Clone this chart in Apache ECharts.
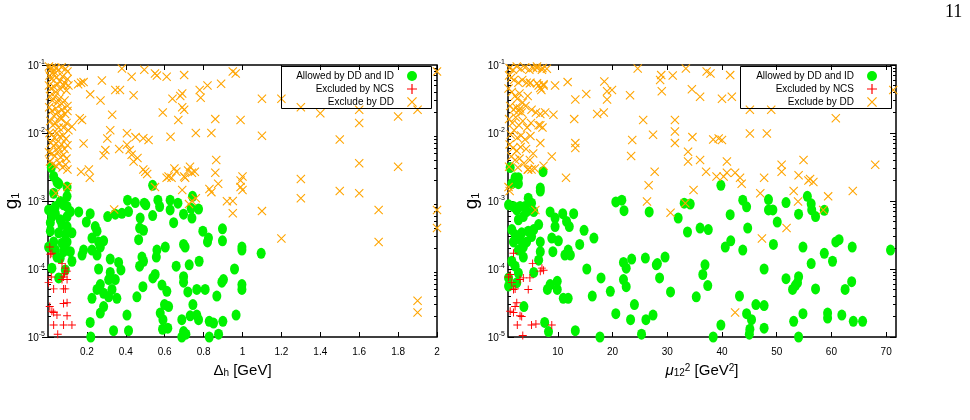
<!DOCTYPE html>
<html lang="en">
<head>
<meta charset="UTF-8">
<title>g1 scan</title>
<style>
  html, body { margin: 0; padding: 0; background: #fff; }
  #chart { width: 970px; height: 420px; }
</style>
<script src="https://cdn.jsdelivr.net/npm/echarts@6/dist/echarts.min.js"></script>
</head>
<body>
<div id="chart"></div>
<script>
// tick labels
const deltaTicks = [0.2, 0.4, 0.6, 0.8, 1, 1.2, 1.4, 1.6, 1.8, 2];
const muTicks = [10, 20, 30, 40, 50, 60, 70];
const g1Decades = [1e-5, 1e-4, 1e-3, 1e-2, 1e-1];
const g1Minor = [];
g1Decades.slice(0, 4).forEach(d => { for (let k = 2; k <= 9; k++) g1Minor.push(k * d); });

const seriesNames = ['Allowed by DD and ID', 'Excluded by NCS', 'Exclude by DD'];

// left panel: Delta_h [GeV] vs g1
const leftAllowed = [
  [0.017,3.1e-3],[0.029,2.3e-3],[0.046,1.9e-3],[0.055,1.8e-3],[0.029,1.3e-3],[0.098,1.6e-3],[0.098,1.17e-3],
  [0.003,7.4e-4],[0.038,8.3e-4],[0.08,8.8e-4],[0.115,7e-4],[0.158,6.9e-4],[0.02,5.9e-4],[0.063,5.3e-4],
  [0.098,5.9e-4],[0.072,4.5e-4],[0.098,4.2e-4],[0.012,3.6e-4],[0.055,3.4e-4],[0.089,3.2e-4],[0.123,3.4e-4],
  [0.029,2.5e-4],[0.072,2.4e-4],[0.098,2.5e-4],[0.003,2.1e-4],[0.038,1.9e-4],[0.08,1.8e-4],[0.115,1.8e-4],
  [0.063,1.45e-4],[0.123,1.3e-4],[0.02,1.03e-4],[0.089,9.7e-5],[0.055,7.4e-5],[0.038,6.5e-4],[0.063,9.8e-4],
  [0.012,4.8e-4],[0.098,8.3e-4],[0.089,2.1e-4],[0.046,1.5e-4],
  [0.217,6.5e-4],[0.197,4.9e-4],[0.243,4.2e-4],[0.252,3.6e-4],[0.226,2.85e-4],[0.26,2.5e-4],[0.286,2.6e-4],
  [0.269,2.1e-4],[0.183,1.9e-4],[0.175,1.6e-4],[0.226,1.9e-4],[0.252,1.6e-4],[0.32,1.4e-4],[0.26,1e-4],
  [0.32,8.9e-5],[0.363,1.25e-4],[0.375,9.7e-5],[0.346,7e-5],[0.312,7e-5],[0.269,5.9e-5],[0.252,5e-5],
  [0.226,3.7e-5],[0.286,4.4e-5],[0.329,5e-5],[0.312,3.9e-5],[0.354,3.7e-5],[0.286,2.8e-5],[0.269,2.25e-5],
  [0.217,1.64e-5],[0.22,1e-5],[0.337,1.24e-5],[0.406,2.1e-5],[0.414,1.24e-5],[0.307,5.9e-4],[0.346,6.4e-4],
  [0.38,6.6e-4],[0.409,1.03e-3],[0.414,7e-4],[0.449,9.5e-4],[0.495,9.3e-4],[0.503,8.8e-4],[0.474,5.6e-4],
  [0.471,4e-4],[0.491,3.7e-4],[0.466,2.7e-4],[0.538,1.7e-3],[0.538,6.1e-4],[0.565,1.03e-3],[0.574,8.3e-4],
  [0.628,1.03e-3],[0.628,7.4e-4],[0.668,9.3e-4],[0.646,4.8e-4],[0.697,6.4e-4],[0.743,1.17e-3],[0.736,7.8e-4],
  [0.74,5.6e-4],[0.774,7.6e-4],[0.796,3.6e-4],[0.825,2.85e-4],[0.82,2.5e-4],[0.897,3.9e-4],[0.897,2.6e-4],
  [0.56,1.9e-4],[0.603,2.1e-4],[0.557,1.5e-4],[0.483,1.5e-4],[0.491,1.3e-4],[0.471,1.1e-4],[0.551,8.3e-5],
  [0.539,7.4e-5],[0.586,5.8e-5],[0.611,4.7e-5],[0.488,5.5e-5],[0.457,3.9e-5],[0.659,1.1e-4],[0.697,2.3e-4],
  [0.705,2.1e-4],[0.726,1.15e-4],[0.777,1.3e-4],[0.697,7.7e-5],[0.697,6.4e-5],[0.719,4.6e-5],[0.765,5e-5],
  [0.808,5e-5],[0.745,3e-5],[0.868,4e-5],[0.902,7e-5],[0.894,6.4e-5],[0.959,1e-4],[0.997,2.1e-4],[0.997,1.9e-4],
  [0.997,5.9e-5],[0.997,5e-5],[1.096,1.7e-4],[0.577,2.25e-5],[0.591,1.8e-5],[0.599,3e-5],[0.62,2.8e-5],
  [0.589,1.3e-5],[0.616,1.35e-5],[0.688,1.8e-5],[0.697,1.2e-5],[0.709,1.1e-5],[0.731,2.05e-5],[0.765,2.1e-5],
  [0.774,1.8e-5],[0.829,1.7e-5],[0.851,1.6e-5],[0.877,1.1e-5],[0.899,1.7e-5],[0.829,1e-5],[0.967,2.1e-5],
  [0.688,1e-5]
];
const leftNCS = [
  [0.009,2.1e-4],[0.02,1.7e-4],[0.012,1.65e-4],[0.017,7.6e-5],[0.029,5.1e-5],[0.072,1.2e-4],[0.089,1.03e-4],
  [0.098,9.3e-5],[0.08,7.6e-5],[0.072,7e-5],[0.098,7e-5],[0.089,5.1e-5],[0.08,5.1e-5],[0.08,3.1e-5],
  [0.098,3.2e-5],[0.009,2.8e-5],[0.02,2.4e-5],[0.029,2.3e-5],[0.046,2.1e-5],[0.029,1.5e-5],[0.08,1.5e-5],
  [0.098,2.05e-5],[0.123,1.5e-5],[0.05,1.1e-5],[0.003,6.3e-5],[0.085,8.5e-5]
];
const leftDD = [
  [0.005,0.095],[0.012,0.085],[0.02,0.092],[0.03,0.08],[0.04,0.09],[0.055,0.085],[0.07,0.093],[0.09,0.088],[0.1,0.08],
  [0.008,0.07],[0.018,0.062],[0.028,0.072],[0.045,0.066],[0.06,0.058],[0.075,0.068],[0.085,0.055],[0.1,0.062],[0.105,0.05],
  [0.005,0.05],[0.015,0.045],[0.03,0.048],[0.04,0.04],[0.05,0.052],[0.065,0.044],[0.08,0.05],[0.095,0.042],
  [0.01,0.035],[0.022,0.03],[0.035,0.034],[0.048,0.028],[0.058,0.032],[0.07,0.027],[0.085,0.03],[0.1,0.025],
  [0.006,0.024],[0.02,0.021],[0.03,0.018],[0.04,0.023],[0.05,0.02],[0.06,0.017],[0.072,0.022],[0.088,0.019],[0.1,0.021],
  [0.012,0.015],[0.025,0.013],[0.038,0.014],[0.055,0.012],[0.068,0.016],[0.08,0.012],[0.095,0.014],
  [0.008,0.01],[0.02,0.0095],[0.033,0.0085],[0.045,0.01],[0.06,0.0088],[0.078,0.0092],[0.092,0.0082],[0.105,0.011],
  [0.015,0.0072],[0.028,0.0065],[0.042,0.007],[0.055,0.006],[0.07,0.0068],[0.085,0.0058],[0.1,0.0066],
  [0.005,0.0052],[0.02,0.005],[0.035,0.0046],[0.05,0.0053],[0.065,0.0044],[0.08,0.0048],[0.095,0.0042],
  [0.01,0.0038],[0.025,0.0035],[0.04,0.0033],[0.06,0.0036],[0.075,0.0031],[0.09,0.0034],[0.1,0.0029],
  [0.04,0.0013],[0.1,0.0016],
  [0.17,5.5e-2],[0.155,5.2e-2],[0.183,5.6e-2],[0.217,3.7e-2],[0.27,3e-2],[0.277,5.9e-2],[0.175,1.55e-2],
  [0.163,1.65e-2],[0.123,1.25e-2],[0.183,7e-3],[0.33,1.85e-2],[0.32,1.1e-2],[0.305,8.3e-3],[0.295,5.6e-3],
  [0.286,4.7e-3],[0.366,5.8e-3],[0.38,8.9e-2],[0.43,6.7e-2],[0.346,4.3e-2],[0.37,4.3e-2],[0.44,3.6e-2],
  [0.406,9.9e-3],[0.45,8.7e-3],[0.406,6.7e-3],[0.42,5.6e-3],[0.43,4.8e-3],[0.46,4.3e-3],[0.44,3.8e-3],
  [0.49,8.4e-3],[0.517,7.9e-3],[0.495,8.5e-2],[0.55,7.5e-2],[0.56,7e-2],[0.61,6.7e-2],[0.64,3.2e-2],
  [0.59,2e-2],[0.63,8.8e-3],[0.67,1.55e-2],[0.68,3.5e-2],[0.69,3.8e-2],[0.7,7.1e-2],[0.69,2.4e-2],
  [0.7,2.2e-2],[0.76,1e-2],[0.785,3.3e-2],[0.78,4.3e-2],[0.82,5e-2],[0.84,1e-2],[0.86,1.6e-2],[0.89,5.3e-2],
  [0.95,8e-2],[0.965,7.5e-2],[0.99,1.55e-2],[1.1,3.2e-2],[1.1,9.1e-3],[1.2,3.2e-2],[1.3,2.4e-2],[1.4,1.95e-2],
  [1.5,8e-3],[1.6,1.4e-2],[1.6,2.2e-2],[1.8,1.75e-2],[1.9,2.2e-2],[2.0,8e-2],[1.6,3.6e-3],[1.8,3.2e-3],
  [1.6,1.3e-3],[1.5,1.4e-3],[1.3,2.1e-3],[1.3,1.1e-3],[1.1,7.1e-4],[1.2,2.8e-4],[1.7,7.4e-4],[1.7,2.5e-4],
  [2.0,7.4e-4],[2.0,4e-4],[1.9,3.4e-5],[1.9,2.3e-5],[1.0,2.3e-3],[0.99,2e-3],[0.99,1.6e-3],[1.0,1.45e-3],
  [0.95,6.6e-4],[0.92,9.9e-4],[0.95,1e-3],[0.83,1.5e-3],[0.84,1.35e-3],[0.86,2.6e-3],[0.865,4e-3],
  [0.875,1.8e-3],[0.72,2.8e-3],[0.73,3.2e-3],[0.74,2.6e-3],[0.755,2.7e-3],[0.7,2.3e-3],[0.705,2.2e-3],
  [0.65,3e-3],[0.66,2.7e-3],[0.62,2.3e-3],[0.61,2.2e-3],[0.635,2.2e-3],[0.69,1.45e-3],[0.725,9e-4],
  [0.74,1e-3],[0.76,1.1e-3],[0.5,2.7e-3],[0.49,2.9e-3],[0.51,2.5e-3],[0.55,1.6e-3],[0.34,7.5e-4],
  [0.21,2.9e-3],[0.215,2.2e-3],[0.17,2.7e-3]
];

// right panel: mu12^2 [GeV^2] vs g1
const rightAllowed = [
  [1.3,3.1e-3],[2.2,2.2e-3],[2.8,2.2e-3],[2.8,1.8e-3],[1.6,1.8e-3],[6.8,1.55e-3],[6.8,1.4e-3],[7.3,2.7e-3],
  [1.0,8.8e-4],[1.9,8.3e-4],[2.5,7.4e-4],[3.1,8.3e-4],[4.0,8.3e-4],[4.6,1.1e-3],[5.2,9.3e-4],[4.3,7e-4],
  [5.6,7e-4],[2.8,5.3e-4],[3.7,5.9e-4],[1.6,3.8e-4],[2.2,3.2e-4],[3.4,3.4e-4],[4.6,3.6e-4],[5.6,3.8e-4],
  [6.5,4.5e-4],[1.9,2.5e-4],[3.1,2.7e-4],[4.3,2.5e-4],[5.2,3e-4],[6.8,2.5e-4],[2.8,1.9e-4],[3.7,2.1e-4],
  [6.8,1.8e-4],[3.7,1.5e-4],[6.5,1.35e-4],[1.6,1.3e-4],[2.2,1.1e-4],[2.8,8.7e-5],[1.0,7.4e-5],[1.0,5.6e-5],
  [2.5,6.3e-5],[5.6,8.9e-5],[3.8,2.8e-5],[7.6,1.64e-5],[8.3,1.2e-5],[8.1,5e-5],[8.6,5.9e-5],[9.9,6.6e-5],
  [9.9,5e-5],[8.6,6.9e-4],[9.5,5.6e-4],[9.5,4.2e-4],[8.9,2.85e-4],[9.1,1.8e-4],[10.1,2.6e-4],[10.9,6.5e-4],
  [11.6,5e-4],[12.1,4.2e-4],[12.9,6.5e-4],[11.3,1.6e-4],[11.9,1.9e-4],[12.3,1.6e-4],[14.0,2.3e-4],[14.8,3.7e-4],
  [16.6,2.85e-4],[15.3,1e-4],[11.0,3.7e-5],[11.9,3.7e-5],[13.2,1.24e-5],[16.3,4e-5],[17.9,7.4e-5],[17.7,1e-5],
  [19.6,4.7e-5],[20.6,9.7e-4],[21.7,1.03e-3],[22.1,7.2e-4],[22.0,1.25e-4],[22.5,1.03e-4],[22.0,7e-5],
  [22.5,5.5e-5],[23.5,1.4e-4],[20.6,2.2e-5],[24.0,3e-5],[23.3,1.8e-5],[25.3,1.1e-5],[26.0,1.45e-4],
  [26.1,1.8e-5],[26.7,6.9e-4],[27.4,2.1e-5],[28.0,1.15e-4],[28.2,1.2e-4],[28.6,7.4e-5],[29.6,1.5e-4],
  [30.6,4.6e-5],[32.0,5.6e-4],[33.1,9.3e-4],[34.2,9e-4],[33.7,3.5e-4],[35.3,3.9e-5],[36.0,4e-4],[37.5,3.8e-4],
  [36.9,1.15e-4],[36.5,8.3e-5],[37.4,5.7e-5],[38.4,1e-5],[39.8,1.7e-3],[39.8,1.5e-5],[40.6,2.1e-4],
  [41.6,2.6e-4],[41.5,6.3e-4],[43.2,4e-5],[43.8,1.03e-3],[44.5,8.2e-4],[44.7,4e-4],[43.8,1.9e-4],[44.5,2.2e-5],
  [45.4,1.8e-5],[45.1,1.3e-5],[45.0,1.1e-5],[46.2,3e-5],[47.7,1e-4],[47.7,2.9e-5],[47.7,1.35e-5],[48.5,1.05e-3],
  [48.5,7.4e-4],[49.3,7.4e-4],[49.4,2.3e-4],[50.1,4.9e-4],[51.7,9.5e-4],[51.7,7.2e-5],[52.9,5e-5],[53.4,5.7e-5],
  [53.8,6.3e-5],[54.0,7.7e-5],[53.1,1.7e-5],[54.0,1e-5],[54.0,6.4e-4],[54.8,2.1e-4],[54.8,2.2e-5],[55.6,1.17e-3],
  [56.3,9.1e-4],[56.4,7.4e-4],[57.1,5.9e-4],[56.3,1.2e-4],[57.1,5.1e-5],[58.7,7.3e-4],[58.7,1.7e-4],[60.2,1.3e-4],
  [59.3,2.25e-5],[59.3,1.9e-5],[60.8,2.5e-4],[61.4,2.7e-4],[61.9,2.1e-5],[62.5,5e-5],[63.7,6.5e-5],[63.8,2.1e-4],
  [64.0,1.7e-5],[65.7,1.7e-5],[70.8,1.9e-4]
];
const rightNCS = [
  [1.9,1.7e-4],[1.3,8.3e-5],[5.4,1.2e-4],[7.1,1.03e-4],[7.4,9.6e-5],[6.8,9.3e-5],[3.7,7.4e-5],[4.9,7.4e-5],
  [3.1,7e-5],[2.2,5.1e-5],[1.9,5e-5],[4.6,5e-5],[2.5,3.2e-5],[2.2,2.8e-5],[1.3,2.4e-5],[1.9,2.3e-5],
  [3.1,2.05e-5],[3.4,2e-5],[2.6,1.5e-5],[5.2,1.5e-5],[6.0,1.55e-5],[8.9,1.5e-5],[3.6,1.05e-5],[1.0,7.6e-5],
  [1.6,6.3e-5]
];
const rightDD = [
  [1.2,0.09],[1.8,0.085],[2.5,0.095],[3.2,0.088],[4.0,0.092],[4.8,0.085],[5.5,0.09],[6.2,0.095],[7.2,0.09],[8.0,0.088],
  [1.1,0.07],[1.5,0.065],[2.0,0.06],[2.8,0.055],[3.5,0.06],[4.3,0.055],[5.0,0.055],[6.5,0.05],[7.4,0.052],
  [1.0,0.045],[1.6,0.04],[2.2,0.035],[2.6,0.032],[3.0,0.038],[3.6,0.028],[4.5,0.035],
  [1.3,0.025],[1.9,0.022],[2.4,0.024],[2.8,0.021],[3.1,0.023],[3.4,0.02],[4.1,0.025],[5.2,0.022],[6.0,0.02],
  [1.1,0.016],[1.7,0.014],[2.3,0.017],[2.9,0.013],[3.6,0.015],[4.4,0.012],[5.1,0.014],[6.5,0.013],
  [1.4,0.0095],[2.0,0.011],[2.6,0.0085],[3.3,0.0092],[4.0,0.008],[5.0,0.009],
  [1.2,0.0068],[1.8,0.006],[2.5,0.0055],[3.2,0.0062],[4.2,0.0058],[5.5,0.005],
  [1.5,0.0045],[2.2,0.004],[3.0,0.0042],[3.8,0.0036],[4.9,0.004],[1.1,0.0032],[2.7,0.0031],[4.5,0.0029],[5.8,0.003],
  [1.0,0.0016],[1.2,0.0014],[5.9,7.4e-4],
  [4.9,5.4e-2],[6.2,9e-2],[7.1,8.5e-2],[6.2,5.4e-2],[7.4,5e-2],[9.5,5e-2],[6.8,4.6e-2],[7.0,4.3e-2],[9.2,1.85e-2],
  [6.8,1.9e-2],[7.7,2e-2],[6.8,1.3e-2],[7.2,1.2e-2],[6.8,7.1e-3],[8.9,4.5e-3],[5.2,2.9e-3],[4.6,2.9e-3],[7.4,3.3e-3],
  [11.5,2.2e-3],[11.8,5.6e-2],[13.2,3.1e-2],[13.0,1.6e-2],[13.2,7.1e-3],[13.2,6e-3],[15.2,3.75e-2],[17.2,1.9e-2],
  [18.4,2e-2],[18.5,5.7e-2],[19.0,4.1e-2],[19.9,4.3e-2],[19.0,3.1e-2],[23.2,3.6e-2],[23.6,7.9e-3],[23.4,4.6e-3],
  [24.6,8.9e-2],[25.6,1.55e-2],[27.4,9.4e-3],[27.7,2.7e-3],[26.6,1.7e-3],[26.3,9.8e-4],[28.9,7.1e-2],[28.7,6e-2],
  [29.0,4.1e-2],[31.0,7e-2],[31.4,1.55e-2],[31.4,1.05e-2],[31.4,7.1e-3],[30.6,6.7e-4],[33.4,8.9e-2],[34.5,4.4e-2],
  [33.8,5.3e-3],[33.8,3.8e-3],[34.6,8.7e-3],[34.8,1.45e-3],[33.3,9.3e-4],[36.0,3.4e-2],[36.0,4e-3],[37.1,2.7e-3],
  [37.2,8e-2],[37.9,7.5e-2],[38.4,8e-3],[39.4,8.3e-3],[40.0,7.9e-3],[40.0,3.2e-2],[41.8,3.4e-2],[41.5,7.1e-2],
  [40.3,2.3e-3],[40.9,2.6e-3],[39.0,2.3e-3],[40.9,3.8e-3],[42.4,2.6e-3],[43.3,2.2e-3],[43.6,1.8e-3],[42.4,2.3e-5],
  [45.1,9.8e-3],[48.2,9.8e-3],[45.1,2.2e-2],[47.0,1.3e-3],[47.7,2.2e-3],[47.3,2.8e-4],[50.9,3.4e-3],[50.9,2.7e-3],
  [51.8,4e-4],[53.1,1.4e-3],[53.9,9.8e-4],[54.0,2.4e-3],[54.9,4e-3],[55.8,2e-3],[56.7,1.9e-3],[56.1,2.1e-3],
  [58.5,7.4e-4],[59.4,1.17e-3],[60.8,1.65e-2],[63.9,1.4e-3],[68.0,3.4e-3],[71.3,4.3e-2],[49.0,2.2e-2]
];

const FONT = '"Liberation Sans", Arial, sans-serif';
const GREEN = '#00f200', RED = '#ff0000', ORANGE = '#ffa500';
const PLUS = 'path://M4.4,0L5.6,0L5.6,4.4L10,4.4L10,5.6L5.6,5.6L5.6,10L4.4,10L4.4,5.6L0,5.6L0,4.4L4.4,4.4Z';
const CROSS = 'path://M0.85,0L10,9.15L9.15,10L0,0.85ZM9.15,0L10,0.85L0.85,10L0,9.15Z';

const grids = [
  { left: 48, top: 65, width: 389, height: 272 },
  { left: 508, top: 65, width: 388, height: 272 }
];

function xAxes(gi, min, max, ticks, name, rich) {
  const base = {
    type: 'value', gridIndex: gi, min: min, max: max,
    axisLine: { show: false }, splitLine: { show: false }
  };
  return [
    Object.assign({}, base, {
      position: 'bottom',
      axisTick: { inside: true, length: 5, customValues: ticks, lineStyle: { color: '#000' } },
      axisLabel: { customValues: ticks, color: '#000', fontSize: 10, fontFamily: FONT, margin: 10,
        formatter: v => String(v) },
      name: name, nameLocation: 'middle', nameGap: 26,
      nameTextStyle: { color: '#000', fontSize: 15, fontFamily: FONT, rich: rich }
    }),
    Object.assign({}, base, {
      position: 'top',
      axisTick: { inside: true, length: 5, customValues: ticks, lineStyle: { color: '#000' } },
      axisLabel: { show: false }
    })
  ];
}

function yAxes(gi) {
  const base = {
    type: 'log', logBase: 10, gridIndex: gi, min: 1e-5, max: 1e-1,
    axisLine: { show: false }, splitLine: { show: false }
  };
  const minor = Object.assign({}, base, {
    axisTick: { inside: true, length: 3, customValues: g1Minor, lineStyle: { color: '#000' } },
    axisLabel: { show: false }
  });
  return [
    Object.assign({}, base, {
      position: 'left',
      axisTick: { inside: true, length: 6, customValues: g1Decades, lineStyle: { color: '#000' } },
      axisLabel: {
        customValues: g1Decades, margin: 3,
        formatter: v => '{b|10}{s|' + Math.round(Math.log10(v)) + '}',
        rich: {
          b: { fontSize: 10, fontFamily: FONT, color: '#000', lineHeight: 13, verticalAlign: 'bottom' },
          s: { fontSize: 7, fontFamily: FONT, color: '#000', lineHeight: 7, verticalAlign: 'top' }
        }
      },
      name: 'g{s|1}', nameLocation: 'middle', nameGap: 27, nameRotate: 90,
      nameTextStyle: {
        color: '#000', fontSize: 19, fontFamily: FONT,
        rich: { s: { fontSize: 11, fontFamily: FONT, color: '#000', verticalAlign: 'bottom', lineHeight: 13 } }
      }
    }),
    Object.assign({}, base, {
      position: 'right',
      axisTick: { inside: true, length: 6, customValues: g1Decades, lineStyle: { color: '#000' } },
      axisLabel: { show: false }
    }),
    Object.assign({}, minor, { position: 'right' }),
    Object.assign({}, minor, { position: 'left' })
  ];
}

const xRichDelta = { s: { fontSize: 10, fontFamily: FONT, color: '#000', verticalAlign: 'bottom', lineHeight: 12 } };
const xRichMu = {
  i: { fontSize: 15, fontStyle: 'italic', fontFamily: FONT, color: '#000' },
  d: { fontSize: 10, fontFamily: FONT, color: '#000', verticalAlign: 'bottom', lineHeight: 12 },
  u: { fontSize: 10, fontFamily: FONT, color: '#000', verticalAlign: 'top', lineHeight: 10 }
};

const xAxis = [].concat(
  xAxes(0, 0, 2, deltaTicks, '\u0394{s|h} [GeV]', xRichDelta),
  xAxes(1, 0.9, 71.8, muTicks, '{i|\u03bc}{d|12}{u|2} [GeV{u|2}]', xRichMu)
);
const yAxis = [].concat(yAxes(0), yAxes(1));

function mk(name, data, gi, kind) {
  const s = { name: name, type: 'scatter', xAxisIndex: gi * 2, yAxisIndex: gi * 4, data: data };
  if (kind === 'ok') { s.symbol = 'circle'; s.symbolSize = [9, 11]; s.itemStyle = { color: GREEN, opacity: 1 }; }
  if (kind === 'ncs') { s.symbol = PLUS; s.symbolSize = 8; s.itemStyle = { color: RED, opacity: 1 }; }
  if (kind === 'dd') { s.symbol = CROSS; s.symbolSize = 9; s.itemStyle = { color: ORANGE, opacity: 1 }; }
  s.emphasis = { disabled: true };
  return s;
}

const series = [
  mk(seriesNames[0], leftAllowed, 0, 'ok'),
  mk(seriesNames[1], leftNCS, 0, 'ncs'),
  mk(seriesNames[2], leftDD, 0, 'dd'),
  mk(seriesNames[0], rightAllowed, 1, 'ok'),
  mk(seriesNames[1], rightNCS, 1, 'ncs'),
  mk(seriesNames[2], rightDD, 1, 'dd')
];

// one legend per entry, right-aligned so the text ends flush against the symbol
const legendTops = [71, 84, 97];
const legendRights = [553, 93];
const legend = [];
legendRights.forEach(r => {
  seriesNames.forEach((n, i) => {
    legend.push({
      data: [n], right: r, top: legendTops[i], orient: 'vertical', align: 'right',
      itemWidth: 26, itemHeight: 10, padding: 0, selectedMode: false,
      textStyle: { fontSize: 10, fontFamily: FONT, color: '#000' }
    });
  });
});

const chart = echarts.init(document.getElementById('chart'), null, { renderer: 'canvas' });
chart.setOption({
  animation: false,
  backgroundColor: '#fff',
  grid: grids.map(g => Object.assign({ show: true, borderColor: '#000', borderWidth: 1.5,
    backgroundColor: 'transparent', containLabel: false }, g)),
  xAxis: xAxis,
  yAxis: yAxis,
  legend: legend,
  graphic: [
    { type: 'rect', shape: { x: 281.5, y: 66.5, width: 150, height: 42 }, style: { fill: 'none', stroke: '#000', lineWidth: 1 }, z: 10 },
    { type: 'rect', shape: { x: 740.5, y: 66.5, width: 151, height: 42 }, style: { fill: 'none', stroke: '#000', lineWidth: 1 }, z: 10 },
    { type: 'text', left: 945, top: 3, style: { text: '11', fontSize: 18, fontFamily: '"Liberation Serif", "DejaVu Serif", serif', fill: '#000' } }
  ],
  series: series
});
</script>
</body>
</html>
